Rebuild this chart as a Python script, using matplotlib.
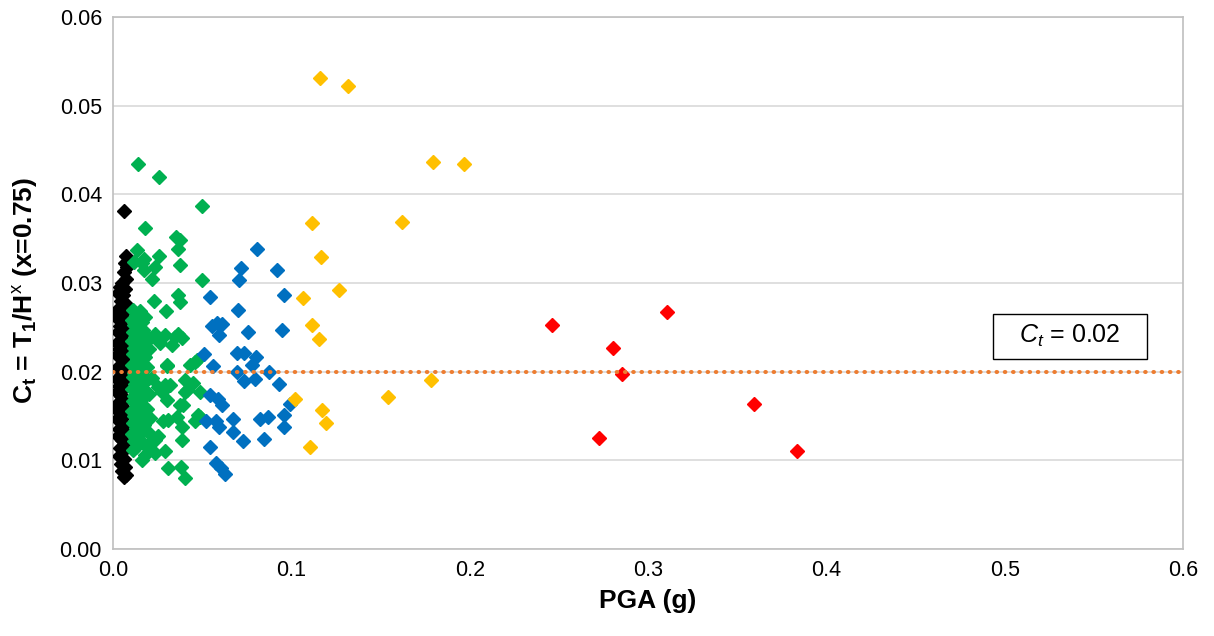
import matplotlib
matplotlib.use("Agg")
import matplotlib.pyplot as plt
import matplotlib.patches as mpatches

plt.rcParams["font.family"] = ["Liberation Sans", "DejaVu Sans"]
plt.rcParams["mathtext.fontset"] = "custom"
plt.rcParams["mathtext.rm"] = "Liberation Sans"
plt.rcParams["mathtext.it"] = "Liberation Sans:italic"
plt.rcParams["mathtext.bf"] = "Liberation Sans:bold"

# ── datos (PGA en g, Ct) ─────────────────────────────────────────────────────
black_x = [0.0062, 0.0075, 0.0068, 0.0080, 0.0060, 0.0072, 0.0050, 0.0040, 0.0065, 0.0030,
           0.0055, 0.0045, 0.0070, 0.0035, 0.0060, 0.0080, 0.0015, 0.0025, 0.0050, 0.0040,
           0.0065, 0.0030, 0.0055, 0.0045, 0.0020, 0.0070, 0.0035, 0.0060, 0.0025, 0.0050,
           0.0075, 0.0040, 0.0030, 0.0060, 0.0045, 0.0025, 0.0070, 0.0035, 0.0055, 0.0020,
           0.0045, 0.0065, 0.0030, 0.0050, 0.0015, 0.0040, 0.0060, 0.0025, 0.0045, 0.0070,
           0.0035, 0.0055, 0.0030, 0.0050, 0.0065, 0.0040, 0.0055, 0.0035, 0.0060, 0.0045,
           0.0065, 0.0050, 0.0070, 0.0060]
black_y = [0.0381, 0.0331, 0.0322, 0.0318, 0.0312, 0.0305, 0.0300, 0.0296, 0.0293, 0.0289,
           0.0286, 0.0280, 0.0276, 0.0272, 0.0268, 0.0265, 0.0265, 0.0261, 0.0258, 0.0252,
           0.0248, 0.0245, 0.0240, 0.0236, 0.0232, 0.0230, 0.0226, 0.0222, 0.0219, 0.0215,
           0.0212, 0.0208, 0.0204, 0.0200, 0.0196, 0.0192, 0.0188, 0.0184, 0.0180, 0.0177,
           0.0173, 0.0169, 0.0165, 0.0161, 0.0158, 0.0154, 0.0150, 0.0147, 0.0143, 0.0139,
           0.0135, 0.0131, 0.0127, 0.0123, 0.0119, 0.0114, 0.0110, 0.0105, 0.0101, 0.0096,
           0.0092, 0.0088, 0.0084, 0.0081]

green_x = [0.0138, 0.0258, 0.0497, 0.0179, 0.0352, 0.0376, 0.0362, 0.0133, 0.0260, 0.0175,
           0.0120, 0.0160, 0.0236, 0.0376, 0.0175, 0.0220, 0.0501, 0.0362, 0.0376, 0.0232,
           0.0295, 0.0142, 0.0160, 0.0120,
           0.0236, 0.0292, 0.0348, 0.0385, 0.0329, 0.0264, 0.0198, 0.0460, 0.0301, 0.0179,
           0.0216, 0.0254, 0.0292, 0.0404, 0.0450, 0.0413,
           0.0301, 0.0394, 0.0273, 0.0404, 0.0488, 0.0282, 0.0310, 0.0357, 0.0385, 0.0460,
           0.0478, 0.0236, 0.0254, 0.0198, 0.0385, 0.0292, 0.0179, 0.0236, 0.0114, 0.0160,
           0.0310, 0.0381, 0.0404,
           0.0469, 0.0432, 0.0488, 0.0376, 0.0301, 0.0320, 0.0366,
           0.0110, 0.0150, 0.0130, 0.0180, 0.0105, 0.0140, 0.0170, 0.0110, 0.0155, 0.0125,
           0.0190, 0.0105, 0.0145, 0.0170, 0.0120, 0.0200, 0.0150, 0.0110, 0.0175, 0.0135,
           0.0160, 0.0105, 0.0190, 0.0140, 0.0120, 0.0165, 0.0110, 0.0150, 0.0185, 0.0125,
           0.0160, 0.0105, 0.0140, 0.0200, 0.0120, 0.0170, 0.0110, 0.0150, 0.0130, 0.0190,
           0.0105, 0.0160, 0.0120, 0.0145, 0.0210, 0.0110, 0.0175, 0.0130, 0.0155, 0.0105,
           0.0200, 0.0140, 0.0120, 0.0170, 0.0130]
green_y = [0.0434, 0.0419, 0.0387, 0.0362, 0.0352, 0.0348, 0.0338, 0.0337, 0.0330, 0.0327,
           0.0324, 0.0322, 0.0318, 0.0320, 0.0315, 0.0304, 0.0303, 0.0287, 0.0279, 0.0280,
           0.0268, 0.0262, 0.0256, 0.0253,
           0.0243, 0.0241, 0.0239, 0.0238, 0.0230, 0.0232, 0.0236, 0.0211, 0.0208, 0.0217,
           0.0193, 0.0183, 0.0185, 0.0191, 0.0187, 0.0179,
           0.0168, 0.0162, 0.0177, 0.0177, 0.0177, 0.0144, 0.0145, 0.0149, 0.0138, 0.0144,
           0.0151, 0.0123, 0.0127, 0.0117, 0.0123, 0.0110, 0.0106, 0.0108, 0.0112, 0.0100,
           0.0091, 0.0092, 0.0080,
           0.0213, 0.0208, 0.0149, 0.0162, 0.0206, 0.0185, 0.0243,
           0.0270, 0.0268, 0.0264, 0.0262, 0.0258, 0.0250, 0.0247, 0.0245, 0.0242, 0.0239,
           0.0240, 0.0235, 0.0233, 0.0229, 0.0227, 0.0225, 0.0222, 0.0220, 0.0218, 0.0214,
           0.0210, 0.0208, 0.0205, 0.0203, 0.0199, 0.0197, 0.0194, 0.0191, 0.0189, 0.0186,
           0.0182, 0.0180, 0.0177, 0.0175, 0.0172, 0.0170, 0.0167, 0.0164, 0.0160, 0.0158,
           0.0156, 0.0153, 0.0150, 0.0146, 0.0148, 0.0142, 0.0140, 0.0137, 0.0133, 0.0130,
           0.0131, 0.0127, 0.0122, 0.0120, 0.0115]

blue_x = [0.0809, 0.0716, 0.0705, 0.0920, 0.0542, 0.0957, 0.0701, 0.0555, 0.0581, 0.0609,
          0.0592, 0.0755, 0.0946, 0.0512, 0.0694, 0.0736, 0.0802, 0.0778, 0.0559, 0.0694,
          0.0877, 0.0735, 0.0796, 0.0933, 0.0544, 0.0591, 0.0609, 0.0993, 0.0522, 0.0578,
          0.0596, 0.0671, 0.0824, 0.0871, 0.0959, 0.0959, 0.0675, 0.0727, 0.0847, 0.0546,
          0.0578, 0.0604, 0.0628]
blue_y = [0.0338, 0.0317, 0.0303, 0.0315, 0.0284, 0.0286, 0.0270, 0.0251, 0.0255, 0.0254,
          0.0241, 0.0245, 0.0247, 0.0220, 0.0221, 0.0221, 0.0217, 0.0208, 0.0206, 0.0200,
          0.0200, 0.0189, 0.0192, 0.0186, 0.0174, 0.0169, 0.0162, 0.0164, 0.0144, 0.0144,
          0.0138, 0.0147, 0.0147, 0.0149, 0.0151, 0.0138, 0.0132, 0.0122, 0.0124, 0.0115,
          0.0097, 0.0091, 0.0085]

yellow_x = [0.1161, 0.1320, 0.1793, 0.1970, 0.1116, 0.1619, 0.1165, 0.1266, 0.1067, 0.1114,
            0.1154, 0.1782, 0.1023, 0.1541, 0.1170, 0.1195, 0.1107]
yellow_y = [0.0531, 0.0522, 0.0437, 0.0434, 0.0368, 0.0369, 0.0329, 0.0292, 0.0283, 0.0253,
            0.0237, 0.0191, 0.0169, 0.0171, 0.0157, 0.0142, 0.0115]

red_x = [0.2462, 0.2726, 0.2804, 0.2855, 0.3107, 0.3595, 0.3836]
red_y = [0.0253, 0.0125, 0.0227, 0.0197, 0.0267, 0.0164, 0.0111]

ct_ref = 0.02

# ── figura ────────────────────────────────────────────────────────────────────
fig = plt.figure(figsize=(12.14, 6.36), dpi=100)
ax = fig.add_axes([0.0931, 0.1368, 0.8814, 0.8365])

ax.grid(axis="y", color="#D9D9D9", lw=1.2, zorder=0)
ax.set_axisbelow(True)

ms = 7.2
series = [(black_x, black_y, "black"),
          (green_x, green_y, "#00B050"),
          (blue_x, blue_y, "#0070C0"),
          (yellow_x, yellow_y, "#FFC000"),
          (red_x, red_y, "#FF0000")]
for xs, ys, c in series:
    ax.plot(xs, ys, ls="none", marker="D", ms=ms, color=c, mec=c, zorder=3)

ax.axhline(ct_ref, color="#ED7D31", lw=2.9, ls=(0, (0.15, 1.9)),
           dash_capstyle="round", zorder=4)

# cuadro con la etiqueta Ct = 0.02
box = mpatches.Rectangle((0.4935, 0.02143), 0.0864, 0.00507, fc="white",
                         ec="black", lw=1.0, zorder=5)
ax.add_patch(box)
ax.text(0.5367, 0.0240, r"$C_t$ = 0.02", ha="center", va="center",
        fontsize=18, zorder=6)

ax.set_xlim(0, 0.6)
ax.set_ylim(0, 0.06)
ax.set_xticks([0.0, 0.1, 0.2, 0.3, 0.4, 0.5, 0.6])
ax.set_xticklabels(["0.0", "0.1", "0.2", "0.3", "0.4", "0.5", "0.6"])
ax.set_yticks([0.0, 0.01, 0.02, 0.03, 0.04, 0.05, 0.06])
ax.set_yticklabels(["0.00", "0.01", "0.02", "0.03", "0.04", "0.05", "0.06"])
ax.tick_params(length=0, labelsize=15.5, pad=8)

for spine in ax.spines.values():
    spine.set_color("#BFBFBF")
    spine.set_linewidth(1.2)

ax.set_xlabel("PGA (g)", fontsize=19, fontweight="bold", labelpad=6)
ax.set_ylabel(r"$\mathbf{C_t}$ = T$_\mathbf{1}$/H$^\mathrm{x}$ (x=0.75)",
              fontsize=19, fontweight="bold")
ax.yaxis.set_label_coords(-0.068, 0.486)

fig.savefig("out.png", dpi=100, facecolor="white")
